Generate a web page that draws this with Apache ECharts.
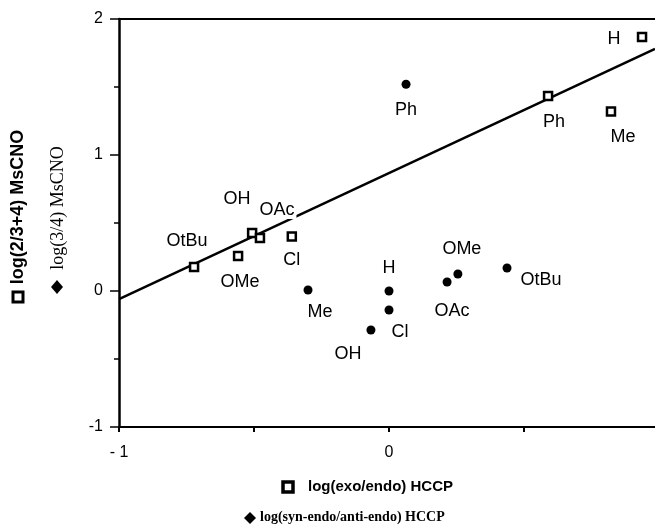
<!DOCTYPE html>
<html>
<head>
<meta charset="utf-8">
<script src="https://cdn.jsdelivr.net/npm/echarts@6/dist/echarts.min.js"></script>
<style>
html,body{margin:0;padding:0;background:#fff;}
#chart{width:655px;height:526px;}
</style>
</head>
<body>
<div id="chart"></div>
<script>
// ---- data ----
const substituents = ['H', 'Me', 'Ph', 'OtBu', 'OMe', 'OH', 'OAc', 'Cl'];
// log(exo/endo) HCCP  vs  log(2/(3+4)) MsCNO  (squares)
const exoEndoX = [0.937, 0.822, 0.589, -0.722, -0.559, -0.507, -0.478, -0.360];
const ms234Y   = [1.868, 1.320, 1.434, 0.176, 0.257, 0.426, 0.390, 0.400];
// log(syn-endo/anti-endo) HCCP  vs  log(3/4) MsCNO  (dots)
const synAntiX = [0.000, -0.300, 0.063, 0.437, 0.255, -0.067, 0.215, 0.000];
const ms34Y    = [0.000, 0.007, 1.520, 0.169, 0.125, -0.287, 0.066, -0.140];
// regression line through the square series
const fitX = [-1, 0.985];
const fitY = [-0.06, 1.78];
// axis tick labels
const xTickLabels = { '-1': '- 1', '0': '0' };
const yTickLabels = { '-1': '-1', '0': '0', '1': '1', '2': '2' };

// ---- label placement (style, not data) ----
const squareLabelOffset = {
  'H': [-28, 2], 'Me': [12, 26], 'Ph': [6, 26], 'OtBu': [-7, -26],
  'OMe': [2, 26], 'OH': [-15, -34], 'OAc': [17, -28], 'Cl': [0, 23]
};
const dotLabelOffset = {
  'H': [0, -23], 'Me': [12, 22], 'Ph': [0, 26], 'OtBu': [34, 12],
  'OMe': [4, -25], 'OH': [-23, 24], 'OAc': [5, 29], 'Cl': [11, 22]
};

const labelFont = { fontFamily: 'Liberation Sans', fontSize: 18, color: '#000',
                    textBorderWidth: 0, textShadowBlur: 0 };

function buildPoints(xs, ys, offsets, withBg) {
  return substituents.map((name, i) => ({
    name: name,
    value: [xs[i], ys[i]],
    label: {
      show: true,
      position: 'inside',
      offset: offsets[name],
      formatter: name,
      ...labelFont,
      backgroundColor: withBg && name === 'OAc' ? '#fff' : 'transparent',
      padding: [0, 2]
    }
  }));
}

const chart = echarts.init(document.getElementById('chart'), null, { renderer: 'canvas' });

const option = {
  backgroundColor: '#fff',
  animation: false,
  grid: { left: 119, top: 19, right: 0, bottom: 99, containLabel: false },
  xAxis: [{
    type: 'value', min: -1, max: 0.985, interval: 0.5,
    axisLine: { show: true, onZero: false, lineStyle: { color: '#000', width: 2 } },
    axisTick: { show: true, length: 5, lineStyle: { color: '#000', width: 2 } },
    axisLabel: {
      show: true, margin: 18, showMaxLabel: false,
      fontFamily: 'Liberation Sans', fontSize: 16, color: '#000',
      formatter: v => xTickLabels[String(Math.round(v * 1000) / 1000)] || ''
    },
    splitLine: { show: false }
  }, {
    type: 'value', position: 'top', min: -1, max: 0.985,
    axisLine: { show: true, onZero: false, lineStyle: { color: '#000', width: 2 } },
    axisTick: { show: false }, axisLabel: { show: false }, splitLine: { show: false }
  }],
  yAxis: [{
    type: 'value', min: -1, max: 2, interval: 1,
    axisLine: { show: true, onZero: false, lineStyle: { color: '#000', width: 2.5 } },
    axisTick: { show: true, length: 9, lineStyle: { color: '#000', width: 1.5 } },
    minorTick: { show: true, splitNumber: 2, length: 5, lineStyle: { color: '#000', width: 1.5 } },
    axisLabel: {
      show: true, margin: 16,
      fontFamily: 'Liberation Sans', fontSize: 16, color: '#000',
      formatter: v => yTickLabels[String(Math.round(v))] || ''
    },
    splitLine: { show: false }
  }],
  series: [{
    type: 'line',
    data: fitX.map((x, i) => [x, fitY[i]]),
    showSymbol: false,
    symbol: 'none',
    lineStyle: { color: '#000', width: 2.5 },
    z: 2
  }, {
    type: 'scatter',
    data: buildPoints(exoEndoX, ms234Y, squareLabelOffset, true),
    symbol: 'rect',
    symbolSize: 8,
    itemStyle: { color: '#fff', borderColor: '#000', borderWidth: 2.5, opacity: 1 },
    z: 4
  }, {
    type: 'scatter',
    data: buildPoints(synAntiX, ms34Y, dotLabelOffset, false),
    symbol: 'circle',
    symbolSize: 9,
    itemStyle: { color: '#000', opacity: 1 },
    z: 4
  }],
  graphic: [
    // y-axis titles
    { type: 'text', x: 18, y: 207, rotation: Math.PI / 2,
      style: { text: 'log(2/3+4) MsCNO', fontFamily: 'Liberation Sans', fontWeight: 'bold',
               fontSize: 18, fill: '#000', align: 'center', verticalAlign: 'middle' } },
    { type: 'rect', shape: { x: 13, y: 292, width: 10, height: 10 },
      style: { fill: '#fff', stroke: '#000', lineWidth: 3 } },
    { type: 'text', x: 58, y: 208, rotation: Math.PI / 2,
      style: { text: 'log(3/4) MsCNO', fontFamily: 'Liberation Serif',
               fontSize: 18, fill: '#000', align: 'center', verticalAlign: 'middle' } },
    { type: 'polygon', shape: { points: [[57, 280], [63, 287], [57, 294], [51, 287]] },
      style: { fill: '#000' } },
    // x-axis titles
    { type: 'rect', shape: { x: 283, y: 482, width: 10, height: 10 },
      style: { fill: '#fff', stroke: '#000', lineWidth: 3.5 } },
    { type: 'text', x: 308, y: 487,
      style: { text: 'log(exo/endo) HCCP', fontFamily: 'Liberation Sans', fontWeight: 'bold',
               fontSize: 15, fill: '#000', align: 'left', verticalAlign: 'middle' } },
    { type: 'polygon', shape: { points: [[250, 512], [256, 518], [250, 524], [244, 518]] },
      style: { fill: '#000' } },
    { type: 'text', x: 260, y: 517,
      style: { text: 'log(syn-endo/anti-endo) HCCP', fontFamily: 'Liberation Serif', fontWeight: 'bold',
               fontSize: 14, fill: '#000', align: 'left', verticalAlign: 'middle' } }
  ]
};

chart.setOption(option);
</script>
</body>
</html>
